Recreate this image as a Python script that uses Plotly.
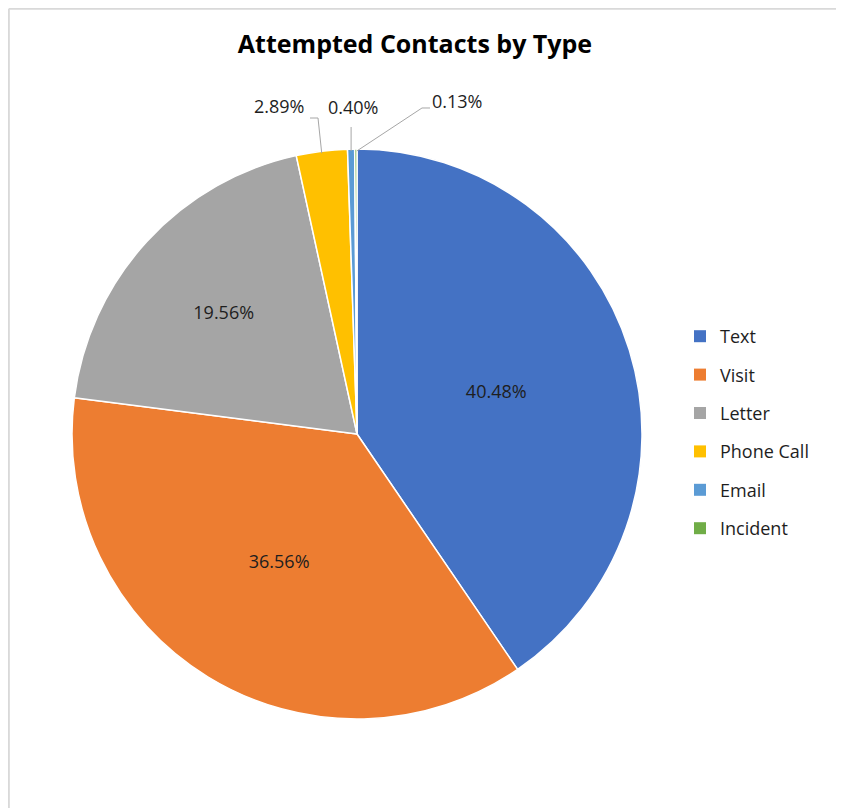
import math
import plotly.graph_objects as go

W, H = 844, 808
OFF = 8  # page body margin offset in the rendered page

categories = ["Text", "Visit", "Letter", "Phone Call", "Email", "Incident"]
percentages = [40.48, 36.56, 19.56, 2.89, 0.40, 0.13]
colors = ["#4472C4", "#ED7D31", "#A5A5A5", "#FFC000", "#5B9BD5", "#70AD47"]
label_text = [f"{v:.2f}%" for v in percentages]

FONT = "'Open Sans', Lato, sans-serif"
TXT = "#1E1E1E"

def px(x):
    return (x - OFF) / W

def py(y):
    return 1 - (y - OFF) / H

# pie geometry (target pixels)
CX, CY, R = 357, 434, 285

fig = go.Figure()
show_inside = [True, True, True, False, False, False]
fig.add_trace(go.Pie(
    labels=categories,
    values=percentages,
    sort=False,
    direction="clockwise",
    rotation=0,
    marker=dict(colors=colors, line=dict(color="white", width=1.5)),
    text=[t if s else "" for t, s in zip(label_text, show_inside)],
    textinfo="text",
    textposition="inside",
    insidetextorientation="horizontal",
    textfont=dict(family=FONT, size=18, color=TXT),
    domain=dict(x=[px(CX - R), px(CX + R)], y=[py(CY + R), py(CY - R)]),
    showlegend=False,
    hoverinfo="label+percent",
))

# legend via dummy traces for spacing control
for cat, col in zip(categories, colors):
    fig.add_trace(go.Scatter(
        x=[None], y=[None], mode="markers", name=cat,
        marker=dict(symbol="square", size=9, color=col),
        legendgroup=cat, showlegend=True,
    ))

# outside labels for small slices with leader lines
total = sum(percentages)
cum = 0
mids = []
for v in percentages:
    mids.append((cum + v / 2) / total * 360)
    cum += v

outside = {3: 106, 4: 107, 5: 101}
shapes = []
annotations = []
for i, ly in outside.items():
    ang = math.radians(mids[i])
    ex = CX + R * math.sin(ang)
    ey = CY - R * math.cos(ang)
    if i == 3:
        path_pts = [(310, 118), (318, 118), (ex, ey + 2)]
        tx, xa = 306, "right"
    elif i == 4:
        path_pts = [(ex, 127), (ex, ey + 2)]
        tx, xa = 353, "center"
    else:
        path_pts = [(430, 108), (422, 108), (ex + 1, ey + 2)]
        tx, xa = 430, "left"
    path = "M " + " L ".join(f"{px(a):.5f},{py(b):.5f}" for a, b in path_pts)
    shapes.append(dict(type="path", path=path, xref="paper", yref="paper",
                       line=dict(color="#A6A6A6", width=1)))
    annotations.append(dict(x=px(tx), y=py(ly), xref="paper", yref="paper",
                            text=label_text[i], showarrow=False,
                            xanchor=xa, yanchor="middle",
                            font=dict(family=FONT, size=18, color=TXT)))

# chart border (top and left visible)
shapes.append(dict(type="line", xref="paper", yref="paper",
                   x0=0.001, y0=0.999, x1=1.01, y1=0.999,
                   line=dict(color="#D9D9D9", width=2)))
shapes.append(dict(type="line", xref="paper", yref="paper",
                   x0=0.001, y0=0.999, x1=0.001, y1=-0.01,
                   line=dict(color="#D9D9D9", width=2)))

fig.update_layout(
    width=W, height=H,
    margin=dict(l=0, r=0, t=0, b=0),
    paper_bgcolor="white", plot_bgcolor="white",
    title=dict(text="<b>Attempted Contacts by Type</b>",
               x=px(415), y=py(44), xanchor="center", yanchor="middle",
               font=dict(family=FONT, size=25, color="#000000")),
    xaxis=dict(visible=False, domain=[0.9, 0.91]),
    yaxis=dict(visible=False, domain=[0.9, 0.91]),
    legend=dict(x=px(680), y=py(318), xanchor="left", yanchor="top",
                font=dict(family=FONT, size=18, color=TXT),
                tracegroupgap=12, itemsizing="constant",
                bgcolor="rgba(0,0,0,0)"),
    shapes=shapes,
    annotations=annotations,
    showlegend=True,
)

fig.write_html("out.html")
